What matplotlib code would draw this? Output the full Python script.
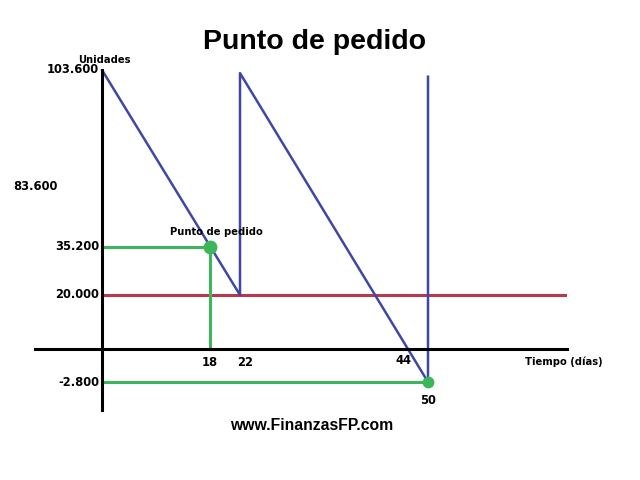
import numpy as np
import matplotlib.pyplot as plt

# inventory sawtooth (dias, unidades en miles)
saw_days = [0, 22, 22, 50, 50]
saw_units = [103.6, 20, 102.4, -2.8, 101]

stock_seg = 20.0          # stock de seguridad
reorder_day = 18
reorder_units = 35.2
shortage_day = 50
shortage_units = -2.8

y_labels = ["103.600", "35.200", "20.000", "-2.800"]
y_label_vals = [103.6, 35.2, 20.0, -2.8]

blue = '#3f47a6'
red = '#b73a4c'
green = '#3db55a'


def piecewise(xk, yk):
    # schematic axis: piecewise-linear, extrapolated at both ends
    xk = np.asarray(xk, float)
    yk = np.asarray(yk, float)
    s0 = (yk[1] - yk[0]) / (xk[1] - xk[0])
    s1 = (yk[-1] - yk[-2]) / (xk[-1] - xk[-2])

    def fwd(v):
        v = np.asarray(v, float)
        out = np.interp(v, xk, yk)
        out = np.where(v < xk[0], yk[0] + (v - xk[0]) * s0, out)
        return np.where(v > xk[-1], yk[-1] + (v - xk[-1]) * s1, out)

    def inv(v):
        v = np.asarray(v, float)
        out = np.interp(v, yk, xk)
        out = np.where(v < yk[0], xk[0] + (v - yk[0]) / s0, out)
        return np.where(v > yk[-1], xk[-1] + (v - yk[-1]) / s1, out)

    return fwd, inv


W, H = 640, 480
fig = plt.figure(figsize=(6.4, 4.8), dpi=100)
ax = fig.add_axes([35 / W, 70 / H, (567 - 35) / W, (410 - 70) / H])

fx, ix = piecewise([0, 18, 22, 44, 50], [102, 210, 240, 406, 428])
fy, iy = piecewise([-2.8, 0, 20, 35.2, 103.6], [98, 131, 185, 233, 410])
ax.set_xscale('function', functions=(fx, ix))
ax.set_yscale('function', functions=(fy, iy))
ax.set_xlim(float(ix(35)), float(ix(567)))
ax.set_ylim(float(iy(70)), float(iy(410)))

for s in ['top', 'right']:
    ax.spines[s].set_visible(False)
ax.spines['left'].set_position(('data', 0))
ax.spines['bottom'].set_position(('data', 0))
for s in ['left', 'bottom']:
    ax.spines[s].set_linewidth(2.2)
    ax.spines[s].set_zorder(5)
ax.set_xticks([])
ax.set_yticks([])
ax.patch.set_visible(False)

xmax = float(ix(565))
ax.plot([0, xmax], [stock_seg, stock_seg], color=red, lw=2.2, zorder=2)
ax.plot([0, reorder_day], [reorder_units, reorder_units], color=green, lw=2.2, zorder=2)
ax.plot([reorder_day, reorder_day], [0, reorder_units], color=green, lw=2.2, zorder=2)
ax.plot([0, shortage_day], [shortage_units, shortage_units], color=green, lw=2.2, zorder=2)
ax.plot(saw_days, saw_units, color=blue, lw=1.8, zorder=3)
ax.plot([reorder_day], [reorder_units], 'o', color=green, ms=9, zorder=4)
ax.plot([shortage_day], [shortage_units], 'o', color=green, ms=7.5, zorder=4)

num = dict(fontsize=8.3, fontweight='bold', family='DejaVu Sans')
lab = dict(fontsize=7.2, fontweight='bold', family='DejaVu Sans')

for t, v in zip(y_labels, y_label_vals):
    ax.annotate(t, (0, v), xytext=(-3, 0), textcoords='offset pixels',
                ha='right', va='center', **num)
fig.text(13 / W, 1 - 187 / H, "83.600", ha='left', va='center', **num)

ax.annotate("18", (18, 0), xytext=(0, -13), textcoords='offset pixels',
            ha='center', va='center', **num)
ax.annotate("22", (22, 0), xytext=(5, -13), textcoords='offset pixels',
            ha='center', va='center', **num)
ax.annotate("44", (44, 0), xytext=(-3, -11), textcoords='offset pixels',
            ha='center', va='center', **num)
ax.annotate("50", (50, shortage_units), xytext=(0, -18), textcoords='offset pixels',
            ha='center', va='center', **num)

ax.annotate("Unidades", (0, 103.6), xytext=(2, 10), textcoords='offset pixels',
            ha='center', va='center', **lab)
ax.annotate("Punto de pedido", (reorder_day, reorder_units), xytext=(6, 15),
            textcoords='offset pixels', ha='center', va='center', **lab)
fig.text(525 / W, 1 - 362 / H, "Tiempo (días)", ha='left', va='center', **lab)

fig.text(315 / W, 1 - 42 / H, "Punto de pedido", ha='center', va='center',
         fontsize=20.5, fontweight='bold', family='Liberation Sans')
fig.text(312 / W, 1 - 426 / H, "www.FinanzasFP.com", ha='center', va='center',
         fontsize=11.3, fontweight='bold', family='Liberation Sans')

fig.savefig('out.png', dpi=100)
